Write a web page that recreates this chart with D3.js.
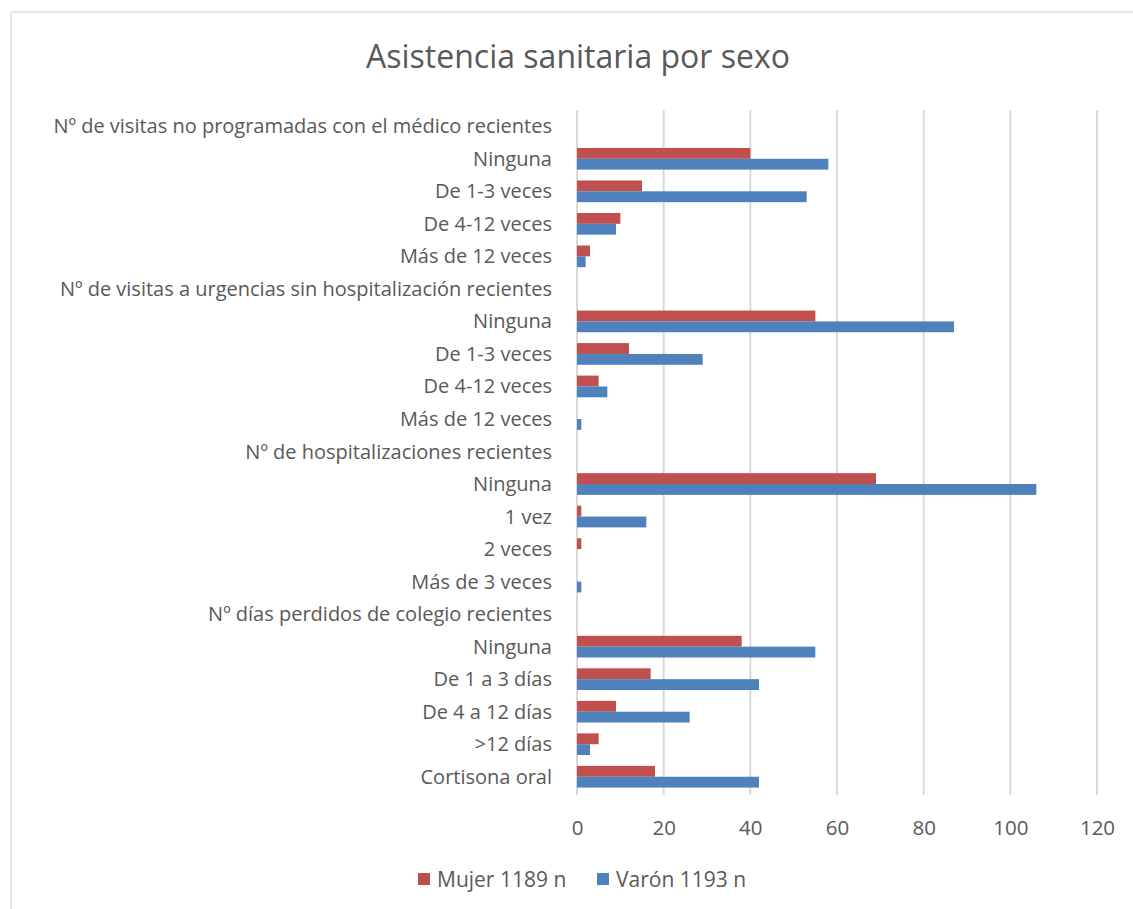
<!DOCTYPE html>
<html>
<head>
<meta charset="utf-8">
<script src="https://cdn.jsdelivr.net/npm/d3@7"></script>
<style>
  html, body { margin: 0; padding: 0; background: #fff; }
  svg { display: block; }
  text { font-family: "Open Sans", "Noto Sans", sans-serif; fill: #595959; }
</style>
</head>
<body>
<svg id="chart" width="1133" height="909"></svg>
<script>
// Category labels, top to bottom (group headers have no bars)
const categories = [
  "Nº de visitas no programadas con el médico recientes",
  "Ninguna", "De 1-3 veces", "De 4-12 veces", "Más de 12 veces",
  "Nº de visitas a urgencias sin hospitalización recientes",
  "Ninguna ", "De 1-3 veces ", "De 4-12 veces ", "Más de 12 veces ",
  "Nº de hospitalizaciones recientes",
  "Ninguna  ", "1 vez", "2 veces", "Más de 3 veces",
  "Nº días perdidos de colegio recientes",
  "Ninguna   ", "De 1 a 3 días", "De 4 a 12 días", ">12 días",
  "Cortisona oral"
];

const mujer = [null, 40, 15, 10, 3, null, 55, 12, 5, 0, null, 69, 1, 1, 0, null, 38, 17, 9, 5, 18];
const varon = [null, 58, 53, 9, 2, null, 87, 29, 7, 1, null, 106, 16, 0, 1, null, 55, 42, 26, 3, 42];

const seriesNames = ["Mujer 1189 n", "Varón 1193 n"];
const seriesColors = ["#C0504D", "#4F81BD"];
const xTicks = [0, 20, 40, 60, 80, 100, 120];

const svg = d3.select("#chart");

// outer chart frame
svg.append("rect")
  .attr("x", 11).attr("y", 12)
  .attr("width", 1140).attr("height", 920)
  .attr("fill", "#fff").attr("stroke", "#D9D9D9").attr("stroke-width", 1.3);

const plot = { left: 577, right: 1097, top: 110, bottom: 793 };

const x = d3.scaleLinear().domain([0, 120]).range([plot.left, plot.right]);
const y = d3.scaleBand().domain(categories).range([plot.top, plot.bottom]);
const inner = d3.scaleBand().domain([0, 1])
  .range([0, y.bandwidth()]).paddingOuter(0.5);

// title
svg.append("text")
  .attr("x", 578).attr("y", 68)
  .attr("text-anchor", "middle")
  .style("font-size", "32px")
  .text("Asistencia sanitaria por sexo");

// vertical gridlines
svg.append("g").selectAll("line")
  .data(xTicks).join("line")
  .attr("x1", d => x(d)).attr("x2", d => x(d))
  .attr("y1", plot.top).attr("y2", plot.bottom + 2)
  .attr("stroke", "#D9D9D9").attr("stroke-width", 2);

// x axis tick labels
const xAxis = d3.axisBottom(x).tickValues(xTicks).tickSize(0).tickPadding(0);
const gx = svg.append("g")
  .attr("transform", `translate(0, ${plot.bottom + 42})`)
  .call(xAxis);
gx.select(".domain").remove();
gx.selectAll("text")
  .style("font-size", "20.5px")
  .style("fill", "#595959")
  .attr("dy", "0");

// category labels
const yAxis = d3.axisLeft(y).tickSize(0).tickPadding(0);
const gy = svg.append("g")
  .attr("transform", `translate(552, 0)`)
  .call(yAxis);
gy.select(".domain").remove();
gy.selectAll("text")
  .style("font-size", "20px")
  .style("fill", "#595959")
  .attr("dy", "0.35em");

// bars
const series = [mujer, varon];
series.forEach((vals, si) => {
  svg.append("g").selectAll("rect")
    .data(categories.map((c, i) => ({ c, v: vals[i] })).filter(d => d.v !== null && d.v > 0))
    .join("rect")
    .attr("x", x(0))
    .attr("y", d => y(d.c) + inner(si))
    .attr("width", d => x(d.v) - x(0))
    .attr("height", inner.bandwidth())
    .attr("fill", seriesColors[si]);
});

// legend
const legendItems = [
  { name: seriesNames[0], color: seriesColors[0], x: 418 },
  { name: seriesNames[1], color: seriesColors[1], x: 597 }
];
const lg = svg.append("g");
legendItems.forEach(it => {
  lg.append("rect")
    .attr("x", it.x).attr("y", 873)
    .attr("width", 12).attr("height", 12)
    .attr("fill", it.color);
  lg.append("text")
    .attr("x", it.x + 19).attr("y", 887)
    .style("font-size", "21px")
    .text(it.name);
});
</script>
</body>
</html>
